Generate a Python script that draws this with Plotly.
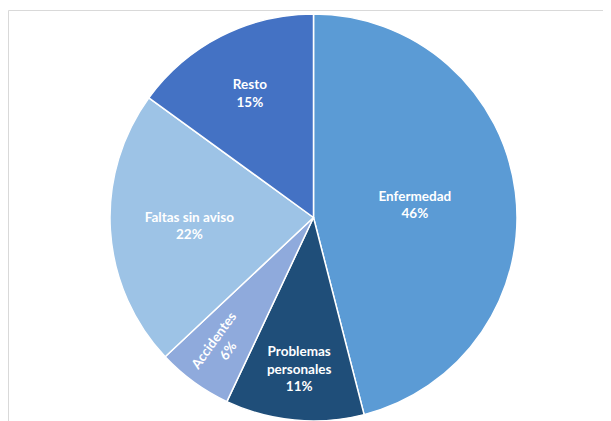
import plotly.graph_objects as go

categories = ["Enfermedad", "Problemas<br>personales", "Accidentes", "Faltas sin aviso", "Resto"]
values = [46, 11, 6, 22, 15]
colors = ["#5B9BD5", "#1F4E79", "#8FAADC", "#9DC3E6", "#4472C4"]

fig = go.Figure(go.Pie(
    labels=categories,
    values=values,
    sort=False,
    direction="clockwise",
    rotation=0,
    marker=dict(colors=colors, line=dict(color="white", width=1.5)),
    texttemplate="<b>%{label}<br>%{percent:.0%}</b>",
    textposition="inside",
    insidetextorientation="auto",
    textfont=dict(family="Lato, Open Sans, sans-serif", size=13.5, color="white"),
    hoverinfo="label+percent",
    showlegend=False,
))

fig.update_layout(
    width=611, height=421,
    margin=dict(l=8, r=8, t=6, b=8, autoexpand=False),
    paper_bgcolor="white",
    plot_bgcolor="white",
    shapes=[dict(type="rect", xref="paper", yref="paper",
                 x0=(0.5 - 8) / 595, x1=1.2, y0=-0.2, y1=1 + (6 - 2.5) / 407,
                 line=dict(color="#D9D9D9", width=1), fillcolor="rgba(0,0,0,0)", layer="below")],
)

fig.write_html("out.html")
